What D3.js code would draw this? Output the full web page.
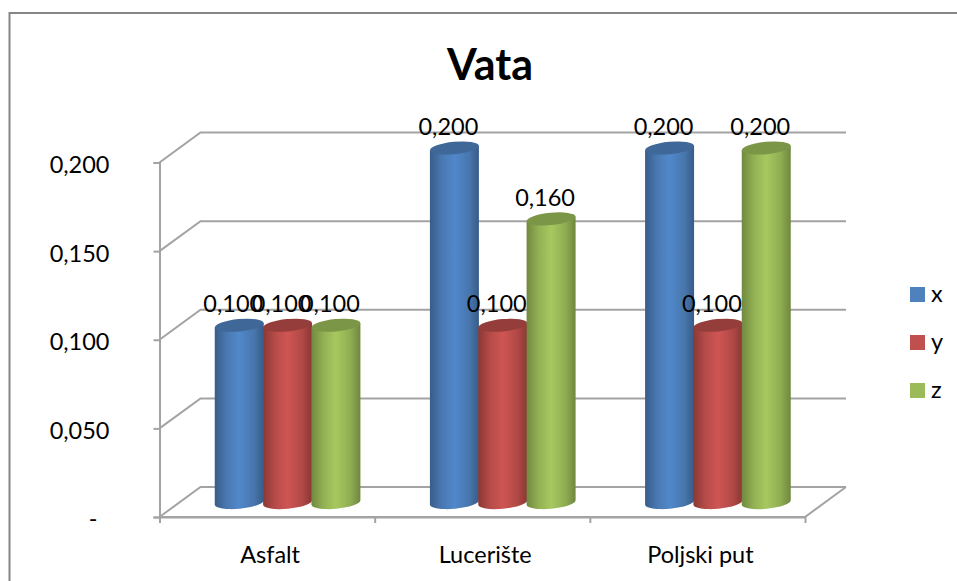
<!DOCTYPE html>
<html>
<head>
<meta charset="utf-8">
<script src="https://cdn.jsdelivr.net/npm/d3@7"></script>
<style>
  html, body { margin: 0; padding: 0; background: #fff; }
  svg { display: block; }
  text { font-family: Lato, "Open Sans", sans-serif; fill: #000; }
</style>
</head>
<body>
<div id="container"></div>
<script>
/* DATA */
const categories = ["Asfalt", "Lucerište", "Poljski put"];
const seriesNames = ["x", "y", "z"];
const xValues = [0.1, 0.2, 0.2];
const yValues = [0.1, 0.1, 0.1];
const zValues = [0.1, 0.16, 0.2];
const tickValues = [0, 0.05, 0.1, 0.15, 0.2];
const tickLabels = ["-", "0,050", "0,100", "0,150", "0,200"];
const valueLabel = d => d.toFixed(3).replace(".", ",");

/* CONSTANTS AND GLOBALS */
const width = 957, height = 581;
const depthX = 41, depthY = -30;        // 3d offset of the back wall
const barDepthX = 20.5, barDepthY = -14.5; // where the cylinders stand on the floor
const gridColor = "#a3a3a3";
const labelSize = 23.5;

const colors = {
  x: { side: ["#385d8a", "#4a79b2", "#5088cb", "#4876ad", "#375c88"], top: "#3f6797", swatch: "#4f81bd" },
  y: { side: ["#8c3836", "#b64c49", "#cf5553", "#b04946", "#8a3735"], top: "#953d3b", swatch: "#c0504d" },
  z: { side: ["#71893f", "#93b154", "#a6c85f", "#8fac52", "#6f873e"], top: "#7c9647", swatch: "#9bbb59" }
};

const series = [
  { name: seriesNames[0], values: xValues },
  { name: seriesNames[1], values: yValues },
  { name: seriesNames[2], values: zValues }
];

const svg = d3.select("#container")
  .append("svg")
  .attr("width", width)
  .attr("height", height);

// SCALES
const x = d3.scaleBand().domain(categories).range([159.5, 805]);
const xInner = d3.scaleBand().domain(seriesNames).range([-72.5, 72.5]);
const y = d3.scaleLinear().domain([0, 0.2]).range([517, 162.5]);

// gradients for the cylinders
const defs = svg.append("defs");
seriesNames.forEach(name => {
  const grad = defs.append("linearGradient")
    .attr("id", "grad-" + name)
    .attr("x1", "0%").attr("x2", "100%")
    .attr("y1", "0%").attr("y2", "0%");
  [0, 0.25, 0.5, 0.8, 1].forEach((o, i) => {
    grad.append("stop").attr("offset", o).attr("stop-color", colors[name].side[i]);
  });
});

// chart border
svg.append("path")
  .attr("d", "M9.5,581V13H957")
  .attr("fill", "none")
  .attr("stroke", "#868686")
  .attr("stroke-width", 2);

// title
svg.append("text")
  .attr("x", 490)
  .attr("y", 80)
  .attr("text-anchor", "middle")
  .attr("font-size", 43)
  .attr("font-weight", 700)
  .text("Vata");

// walls and floor
const wall = svg.append("g")
  .attr("fill", "none")
  .attr("stroke", gridColor)
  .attr("stroke-width", 2);

tickValues.forEach(t => {
  wall.append("path")
    .attr("d", `M${x.range()[0]},${y(t)}l${depthX},${depthY}H${x.range()[1] + depthX}`);
});
wall.append("path")
  .attr("d", `M${x.range()[0]},${y(0)}H${x.range()[1]}l${depthX},${depthY}`);

// AXES
const yAxis = d3.axisLeft(y)
  .tickValues(tickValues)
  .tickFormat((d, i) => tickLabels[i])
  .tickSize(6)
  .tickPadding(44);

const yG = svg.append("g")
  .attr("transform", `translate(${x.range()[0]},0)`)
  .call(yAxis);
yG.select(".domain").attr("stroke", gridColor).attr("stroke-width", 2);
yG.selectAll("line").attr("stroke", gridColor).attr("stroke-width", 2);
yG.selectAll("text").attr("font-size", labelSize).attr("font-family", null).attr("dy", "0.42em")
  .attr("dx", d => d === 0 ? -12 : 0);

const xAxis = d3.axisBottom(d3.scaleLinear().domain([0, 3]).range(x.range()))
  .tickValues([0, 1, 2, 3])
  .tickFormat("")
  .tickSize(6)
  .tickSizeOuter(0);
const xG = svg.append("g")
  .attr("transform", `translate(0,${y(0)})`)
  .call(xAxis);
xG.select(".domain").attr("stroke", gridColor).attr("stroke-width", 2);
xG.selectAll("line").attr("stroke", gridColor).attr("stroke-width", 2);

svg.append("g")
  .selectAll("text")
  .data(categories)
  .join("text")
  .attr("x", d => x(d) + x.bandwidth() / 2 + 3)
  .attr("y", 563)
  .attr("text-anchor", "middle")
  .attr("font-size", labelSize)
  .text(d => d);

// CYLINDERS
const rx = 24.5, ry = 6.2, tilt = -5.5;
const slope = Math.tan(tilt * Math.PI / 180) * rx;

series.forEach(s => {
  const g = svg.append("g");
  s.values.forEach((v, i) => {
    const cx = x(categories[i]) + x.bandwidth() / 2 + barDepthX + xInner(s.name) + xInner.bandwidth() / 2;
    const top = y(v) + barDepthY;
    const bottom = y(0) + barDepthY;
    const arc = `A${rx},${ry} ${tilt} 0 0`;

    g.append("path")
      .attr("d", `M${cx - rx},${top - slope}V${bottom - slope}${arc} ${cx + rx},${bottom + slope}V${top + slope}Z`)
      .attr("fill", `url(#grad-${s.name})`);
    g.append("ellipse")
      .attr("cx", 0).attr("cy", 0)
      .attr("rx", rx).attr("ry", ry)
      .attr("transform", `translate(${cx},${top}) rotate(${tilt})`)
      .attr("fill", colors[s.name].top);
  });
});

// value labels on top of everything
series.forEach(s => {
  s.values.forEach((v, i) => {
    const cx = x(categories[i]) + x.bandwidth() / 2 + barDepthX + xInner(s.name) + xInner.bandwidth() / 2;
    svg.append("text")
      .attr("x", cx - 6)
      .attr("y", y(v) + barDepthY - 13)
      .attr("text-anchor", "middle")
      .attr("font-size", labelSize)
      .text(valueLabel(v));
  });
});

// LEGEND
const legendY = d3.scalePoint().domain(seriesNames).range([294.5, 390.5]);
const legend = svg.append("g")
  .selectAll("g")
  .data(seriesNames)
  .join("g")
  .attr("transform", d => `translate(910,${legendY(d)})`);
legend.append("rect")
  .attr("y", -7.5)
  .attr("width", 15)
  .attr("height", 15)
  .attr("fill", d => colors[d].swatch);
legend.append("text")
  .attr("x", 21)
  .attr("y", 7)
  .attr("font-size", labelSize)
  .text(d => d);
</script>
</body>
</html>
